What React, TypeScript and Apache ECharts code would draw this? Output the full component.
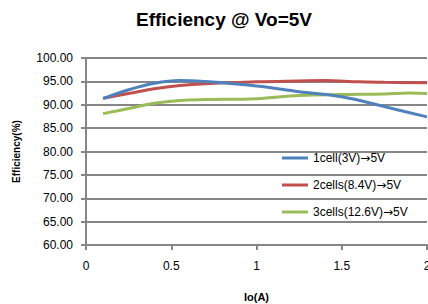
import React, { useEffect, useRef } from "react";
import * as echarts from "echarts";

const seriesNames = ["1cell(3V)→5V", "2cells(8.4V)→5V", "3cells(12.6V)→5V"];
const colors = ["#4F81BD", "#C0504D", "#9BBB59"];

const cell1: [number, number][] = [
  [0.1, 91.3], [0.25, 93.2], [0.4, 94.6], [0.55, 95.2], [0.7, 94.95],
  [1.0, 94.0], [1.25, 92.8], [1.5, 91.7], [1.75, 89.6], [2.0, 87.4],
];
const cell2: [number, number][] = [
  [0.1, 91.4], [0.25, 92.4], [0.4, 93.4], [0.55, 94.1], [0.7, 94.5],
  [1.0, 94.9], [1.25, 95.1], [1.4, 95.2], [1.6, 94.9], [1.75, 94.8], [2.0, 94.7],
];
const cell3: [number, number][] = [
  [0.1, 88.1], [0.25, 89.2], [0.4, 90.3], [0.55, 90.9], [0.7, 91.1],
  [1.0, 91.3], [1.25, 92.0], [1.5, 92.2], [1.75, 92.3], [1.9, 92.5], [2.0, 92.4],
];

const xTicks = { min: 0, max: 2, interval: 0.5 };
const yTicks = { min: 60, max: 100, interval: 5 };

export default function App() {
  const ref = useRef<HTMLDivElement>(null);
  useEffect(() => {
    if (!ref.current) return;
    const chart = echarts.init(ref.current, null, { renderer: "svg" });
    const font = "'Liberation Sans', Arial, sans-serif";
    const data = [cell1, cell2, cell3];
    chart.setOption({
      animation: false,
      backgroundColor: "#fff",
      title: {
        text: "Efficiency @ Vo=5V",
        left: 224,
        textAlign: "center",
        top: 10,
        padding: 0,
        textStyle: { fontFamily: font, fontSize: 19, fontWeight: "bold", color: "#000" },
      },
      grid: {
        left: 86,
        right: 1,
        top: 58,
        bottom: 59,
        containLabel: false,
        outerBoundsMode: "none",
      },
      legend: {
        orient: "vertical",
        left: 282,
        top: 152,
        padding: 0,
        itemWidth: 26,
        itemHeight: 3,
        itemGap: 15,
        icon: "rect",
        formatter: (n: string) => n.replace("→", "{a|→}"),
        textStyle: {
          fontFamily: font,
          fontSize: 12,
          color: "#000",
          rich: { a: { fontFamily: "'DejaVu Sans'", fontSize: 12, color: "#000" } },
        },
        data: seriesNames.map((n, i) => ({ name: n, itemStyle: { color: colors[i] } })),
      },
      xAxis: {
        type: "value",
        min: xTicks.min,
        max: xTicks.max,
        interval: xTicks.interval,
        name: "Io(A)",
        nameLocation: "middle",
        nameGap: 46,
        nameTextStyle: { fontFamily: font, fontSize: 11, fontWeight: "bold", color: "#000" },
        axisLine: { show: true, onZero: false, lineStyle: { color: "#868686", width: 2 } },
        axisTick: { show: true, inside: false, length: 5, lineStyle: { color: "#868686", width: 2 } },
        axisLabel: { fontFamily: font, fontSize: 12, color: "#000", margin: 15 },
        splitLine: { show: false },
      },
      yAxis: {
        type: "value",
        min: yTicks.min,
        max: yTicks.max,
        interval: yTicks.interval,
        name: "Efficiency(%)",
        nameLocation: "middle",
        nameGap: 65,
        nameTextStyle: { fontFamily: font, fontSize: 10, fontWeight: "bold", color: "#000" },
        axisLine: { show: true, lineStyle: { color: "#868686", width: 2 } },
        axisTick: { show: true, inside: false, length: 5, lineStyle: { color: "#868686", width: 2 } },
        axisLabel: {
          fontFamily: font,
          fontSize: 12,
          color: "#000",
          margin: 13,
          formatter: (v: number) => v.toFixed(2),
        },
        splitLine: { show: true, lineStyle: { color: "#868686", width: 2 } },
      },
      series: seriesNames.map((n, i) => ({
        name: n,
        type: "line",
        smooth: 0.4,
        showSymbol: false,
        symbol: "none",
        data: data[i],
        lineStyle: { color: colors[i], width: 3 },
        itemStyle: { color: colors[i] },
        z: 3 + (2 - i),
      })),
    });
    return () => chart.dispose();
  }, []);
  return (
    <div
      ref={ref}
      style={{ position: "absolute", left: 0, top: 0, width: 428, height: 304, overflow: "hidden" }}
    />
  );
}
